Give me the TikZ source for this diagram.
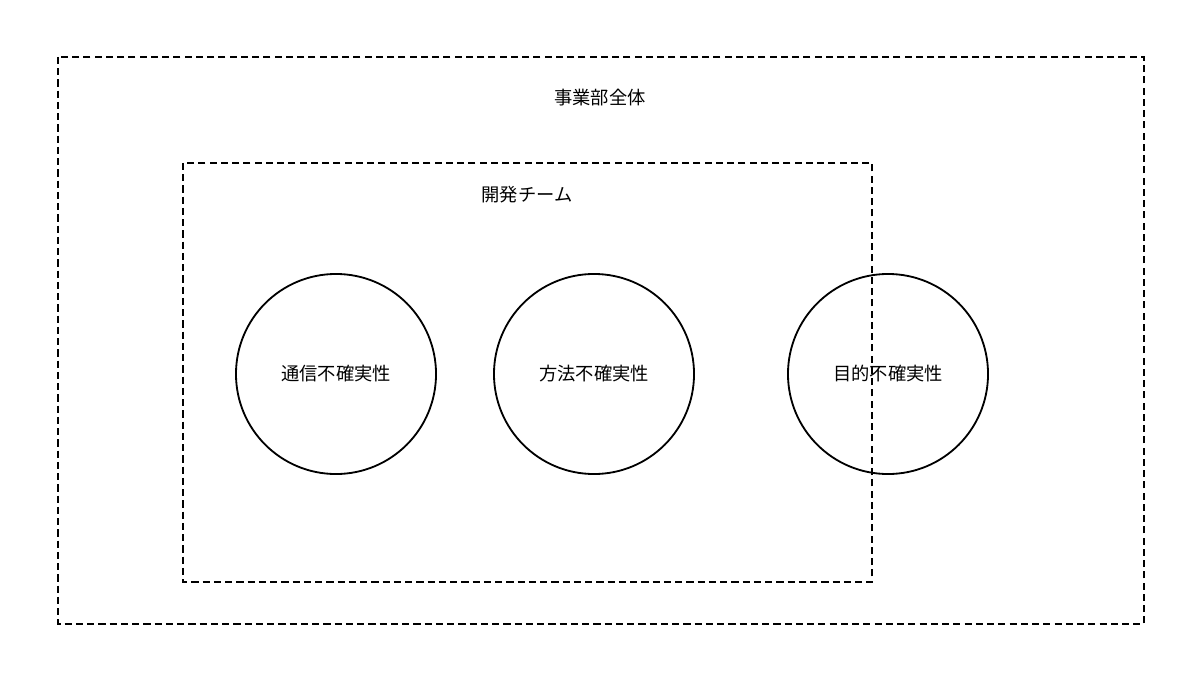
\documentclass[tikz,border=0pt]{standalone}
\usepackage{fontspec}
\newfontfamily\cjk{Noto Sans CJK JP}
\begin{document}
\begin{tikzpicture}[x=0.025cm,y=-0.025cm,
  box/.style={draw, line width=1.3pt, dash pattern=on 5pt off 3pt},
  circ/.style={draw, line width=1.3pt, circle, minimum size=5cm, inner sep=0pt},
  lbl/.style={font=\cjk\fontsize{13pt}{15pt}\selectfont}]
\useasboundingbox (0,0) rectangle (1200,681);
\draw[box] (58,57) rectangle (1144,624);
\draw[box] (183,163) rectangle (872,582);
\node[lbl] (t1) at (600,98) {事業部全体};
\node[lbl] (t2) at (527,195) {開発チーム};
\node[circ,lbl] (c1) at (336,374) {通信不確実性};
\node[circ,lbl] (c2) at (594,374) {方法不確実性};
\node[circ,lbl] (c3) at (888,374) {目的不確実性};
\end{tikzpicture}
\end{document}
